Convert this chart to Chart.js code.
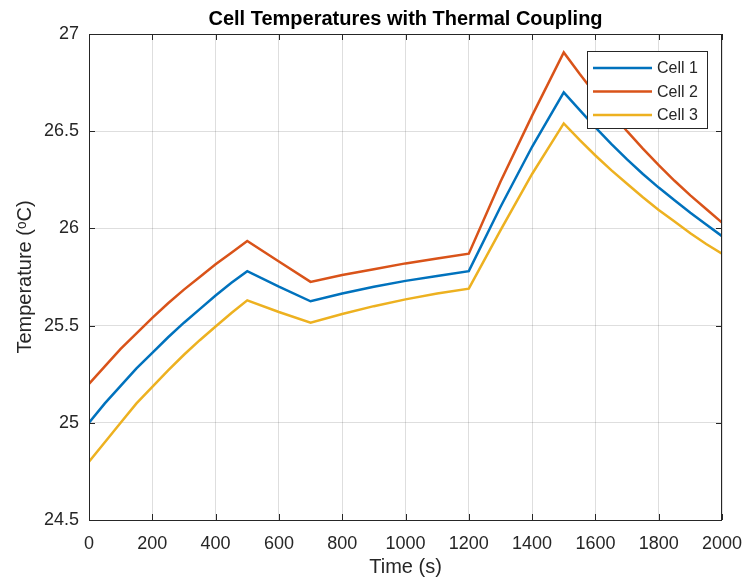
<!DOCTYPE html>
<html>
<head>
<meta charset="utf-8">
<script src="https://cdn.jsdelivr.net/npm/chart.js@4/dist/chart.umd.min.js"></script>
<style>
  html, body { margin: 0; padding: 0; background: #fff; }
  #wrap { width: 746px; height: 584px; }
</style>
</head>
<body>
<div id="wrap"><canvas id="cellChart"></canvas></div>
<script>
// time samples (s)
const times = [0, 50, 100, 150, 200, 250, 300, 350, 400, 450, 500, 600, 700, 800, 900, 1000, 1100, 1200, 1300, 1400, 1500, 1550, 1600, 1650, 1700, 1750, 1800, 1850, 1900, 1950, 2000];

// temperatures (°C)
const cell1 = [25.00, 25.10, 25.19, 25.28, 25.36, 25.44, 25.515, 25.585, 25.655, 25.72, 25.78, 25.70, 25.625, 25.665, 25.70, 25.73, 25.755, 25.78, 26.11, 26.42, 26.70, 26.61, 26.52, 26.435, 26.355, 26.28, 26.21, 26.145, 26.08, 26.02, 25.96];
const cell2 = [25.20, 25.29, 25.38, 25.46, 25.54, 25.615, 25.685, 25.75, 25.815, 25.875, 25.935, 25.83, 25.725, 25.76, 25.79, 25.82, 25.845, 25.87, 26.24, 26.58, 26.905, 26.795, 26.69, 26.595, 26.50, 26.41, 26.325, 26.245, 26.17, 26.10, 26.03];
const cell3 = [24.80, 24.90, 25.00, 25.10, 25.185, 25.27, 25.35, 25.425, 25.495, 25.565, 25.63, 25.57, 25.515, 25.56, 25.60, 25.635, 25.665, 25.69, 25.99, 26.28, 26.54, 26.455, 26.375, 26.30, 26.23, 26.16, 26.095, 26.035, 25.975, 25.92, 25.87];

const seriesNames = ["Cell 1", "Cell 2", "Cell 3"];
const seriesColors = ["#0072BD", "#D95319", "#EDB120"];

const FONT = "Arial, 'Liberation Sans', Helvetica, sans-serif";

function toPoints(vals) {
    return times.map((t, i) => ({ x: t, y: vals[i] }));
}

// box around the plot + legend inside top right
const matlabBox = {
    id: "matlabBox",
    afterDatasetsDraw(chart) {
        const { ctx, chartArea: a } = chart;
        ctx.save();
        ctx.strokeStyle = "#262626";
        ctx.lineWidth = 1;
        ctx.strokeRect(a.left + 0.5, a.top + 0.5, a.right - a.left - 1, a.bottom - a.top);

        // small inward ticks on all sides
        const xs = chart.scales.x, ys = chart.scales.y;
        ctx.beginPath();
        xs.ticks.forEach(t => {
            const px = Math.round(xs.getPixelForValue(t.value)) + 0.5;
            ctx.moveTo(px, a.bottom); ctx.lineTo(px, a.bottom - 6);
            ctx.moveTo(px, a.top); ctx.lineTo(px, a.top + 6);
        });
        ys.ticks.forEach(t => {
            const py = Math.round(ys.getPixelForValue(t.value)) + 0.5;
            ctx.moveTo(a.left, py); ctx.lineTo(a.left + 6, py);
            ctx.moveTo(a.right, py); ctx.lineTo(a.right - 6, py);
        });
        ctx.stroke();

        // legend
        const bx = a.right - 135, by = a.top + 17, bw = 120, bh = 77;
        ctx.fillStyle = "#fff";
        ctx.fillRect(bx, by, bw, bh);
        ctx.strokeStyle = "#262626";
        ctx.strokeRect(bx + 0.5, by + 0.5, bw, bh);
        ctx.font = "16px " + FONT;
        ctx.textBaseline = "middle";
        ctx.textAlign = "left";
        chart.data.datasets.forEach((ds, i) => {
            const ry = by + 17 + i * 23.5;
            ctx.strokeStyle = ds.borderColor;
            ctx.lineWidth = 2.5;
            ctx.beginPath();
            ctx.moveTo(bx + 6, ry);
            ctx.lineTo(bx + 65, ry);
            ctx.stroke();
            ctx.fillStyle = "#262626";
            ctx.fillText(ds.label, bx + 70, ry + 1);
        });
        ctx.restore();
    }
};

new Chart(document.getElementById("cellChart"), {
    type: "line",
    data: {
        datasets: [cell1, cell2, cell3].map((vals, i) => ({
            label: seriesNames[i],
            data: toPoints(vals),
            borderColor: seriesColors[i],
            backgroundColor: seriesColors[i],
            borderWidth: 2.5,
            pointRadius: 0,
            tension: 0,
            fill: false
        }))
    },
    options: {
        responsive: true,
        maintainAspectRatio: false,
        animation: false,
        layout: { padding: { left: 0, right: 24, top: 0, bottom: 0 } },
        plugins: {
            legend: { display: false },
            tooltip: { enabled: false },
            title: {
                display: true,
                fullSize: false,
                text: "Cell Temperatures with Thermal Coupling",
                color: "#000",
                font: { family: FONT, size: 20, weight: "bold", lineHeight: 1 },
                padding: { top: 9, bottom: 5 }
            }
        },
        scales: {
            x: {
                type: "linear",
                min: 0,
                max: 2000,
                ticks: {
                    stepSize: 200,
                    color: "#262626",
                    font: { family: FONT, size: 18 },
                    padding: 13,
                    maxRotation: 0,
                    callback: v => String(v)
                },
                grid: { color: "rgba(0,0,0,0.13)", drawTicks: false },
                border: { display: false },
                title: {
                    display: true,
                    text: "Time (s)",
                    color: "#262626",
                    font: { family: FONT, size: 20 },
                    padding: { top: 0, bottom: 5 }
                },
                afterFit(scale) {
                    scale.height = 64;
                    scale.paddingLeft = 0;
                    scale.paddingRight = 0;
                }
            },
            y: {
                min: 24.5,
                max: 27,
                ticks: {
                    stepSize: 0.5,
                    color: "#262626",
                    font: { family: FONT, size: 18 },
                    padding: 10,
                    callback: v => String(v)
                },
                grid: { color: "rgba(0,0,0,0.13)", drawTicks: false },
                border: { display: false },
                title: {
                    display: true,
                    text: "Temperature (ᵒC)",
                    color: "#262626",
                    font: { family: FONT, size: 20 },
                    padding: { top: 13, bottom: 0 }
                },
                afterFit(scale) {
                    scale.width = 89;
                    scale.paddingTop = 0;
                    scale.paddingBottom = 0;
                }
            }
        }
    },
    plugins: [matlabBox]
});
</script>
</body>
</html>
